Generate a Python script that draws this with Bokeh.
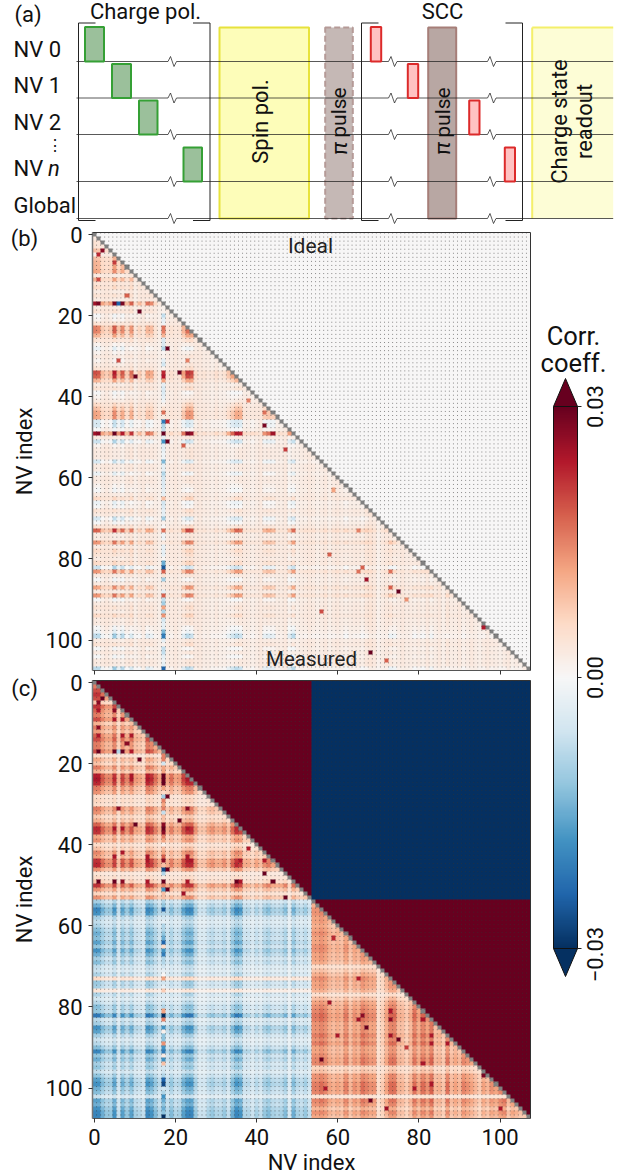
import numpy as np
from bokeh.plotting import figure
from bokeh.models import LinearColorMapper, Label, FixedTicker, Range1d, LinearAxis
from bokeh.embed import file_html
from bokeh.resources import INLINE

# NOTE: the heat maps are estimates: a level per row and per
# column, a separately read column 17, and individually read outlier cells.
# Individual pale cells are therefore approximations, not the original measurements.
N = 108
ticks = [0, 20, 40, 60, 80, 100]
cbar_ticks = [-0.03, 0.0, 0.03]
cbar_labels = ["\u22120.03", "0.00", "0.03"]

rows_b = [0,.05,.1,.1,.25,0,.25,.3,.3,.35,
          .05,.3,.1,.15,.05,.1,.05,.8,.05,.1,
          -.05,0,.1,.45,.45,.3,.1,0,-.1,0,
          .05,0,.05,.1,.6,.55,.3,.05,.1,-.05,
          0,.05,.15,.25,.35,.35,-.2,-.2,-.05,.8,
          .05,-.25,0,.05,.05,.05,-.2,.05,.05,-.1,
          .05,.05,0,-.05,.05,.15,-.1,-.05,.1,.05,
          -.2,-.05,.1,.55,.05,.05,.4,.05,.15,.1,
          .05,.15,-.25,.4,.05,-.05,.05,.35,.05,.4,
          -.05,.05,.1,.05,.15,.05,.05,-.05,-.1,-.3,
          .05,.1,-.05,.05,-.05,.05,.05,-.3]
cols_b = [1.0,1.0,.4,.25,.4,1.3,.5,1.0,.3,.8,
          .15,.3,.1,.6,.5,.15,.05,0,.1,.15,
          .05,.1,.6,1.1,1.0,.15,.05,.1,.05,.1,
          .15,.1,.15,.4,.7,1.0,.9,.15,.1,.15,
          .1,.05,.5,.6,.5,.1,.1,.05,.5,1.0,
          .1,.1,.15,.1,.15,.1,.1,.15,.1,.15,
          .15,.1,.25,.1,.15,.15,.25,.25,.15,.1,
          .05,.1,.15,.5,.35,.1,.1,.05,.1,.25,
          .15,.25,.15,.35,.1,.1,.05,.25,.1,.1,
          .1,.15,.1,.1,.05,.05,.15,.05,.15,.1,
          .1,.15,.05,.1,.1,.05,.05,.05]
col_tint_b = [.05,.03,.08,.1,.08,.02,.06,.02,.08,.08,
              .06,.08,.1,.06,.08,.08,.06,0,.08,.08,
              .1,.08,.06,.06,.08,.1,.1,.08,.08,.06,
              .08,.06,.06,.04,.02,.03,.05,.08,.08,.06,
              .08,.1,.06,.06,.06,.08,.08,.1,.02,.02,
              .06,.08,.08,.1,.08,.06,.08,.1,.06,.08,
              .1,.08,.06,.08,.08,.08,.06,.1,.12,.1,
              .05,.08,.1,.08,.06,.08,.1,.08,.08,.06,
              .08,.06,.1,.06,.08,.1,.06,.1,.08,.08,
              .1,.06,.08,.1,.08,.06,.08,.1,.08,.08,
              .06,.08,.1,.06,.08,.06,.1,.08]
col17_b = [0,0,0,0,0,0,0,0,0,0,
           0,0,0,0,0,0,0,0,.05,.05,
           -.25,-.1,-.05,.55,.5,.35,-.15,-.15,-.3,.02,
           .05,-.1,-.2,.05,.75,.8,.4,-.1,-.15,-.15,
           -.1,-.05,.05,.15,.55,.1,-.7,-.3,-.25,1.0,
           -.1,-.6,-.1,-.1,-.05,-.05,-.45,-.1,-.1,-.3,
           -.2,-.15,-.15,-.1,-.1,.3,-.2,-.15,-.1,-.1,
           -.35,.05,0,.55,-.05,-.05,.1,-.1,-.1,-.1,
           .02,-.5,-.85,.6,.15,-.35,.1,.1,-.1,.6,
           -.25,-.35,.4,-.3,.45,-.2,-.1,-.1,-.45,-.7,
           -.1,.05,-.25,-.25,-.1,-.05,-.1,-.8]

rows_a = [0,.7,.9,1.0,.9,.35,1.0,.8,.7,.9,
          .45,.7,.55,.8,.9,.7,.7,.9,.2,.5,
          .35,.7,.45,1.1,1.15,1.05,.7,.6,.2,.25,
          .2,.7,.6,.3,.45,.8,1.05,1.0,.5,.6,
          .2,.35,.65,.55,1.0,1.05,.6,.12,.2,.35,
          1.0,.6,.25,.6]
rows_x = [.35,.6,.9,.8,.35,.2,
          .3,.5,.6,.5,.7,.45,.8,.6,.35,.5,
          .2,.15,.3,-.15,.4,.35,-.1,.3,.1,.25,
          .5,.45,1.0,.25,.35,.8,.7,.35,.15,.25,
          .5,.9,.45,.6,.35,.45,.2,.45,.7,.8,
          .6,.5,.15,.7,.6,.8,.9,.9]
rows_d = [.8,.7,.9,.9,.8,.8,
          .7,.8,.9,.8,.8,.9,.9,.8,.8,.7,
          .3,.5,.7,.9,.8,.8,.65,.25,.55,.8,
          .9,1.0,1.1,1.05,.9,.9,.9,1.05,.9,1.05,
          .8,.8,.9,1.0,1.0,.4,.5,.9,.9,1.05,
          1.05,1.0,.2,1.0,.9,.65,.9,.75]
cols_c = [1.2,1.2,.9,.7,.7,1.1,.45,1.0,.7,1.0,
          .6,.55,.45,1.2,1.1,.8,.55,0,.55,.8,
          .55,.6,1.0,1.2,1.2,.7,.4,.4,.6,.7,
          .55,.55,.7,.45,.9,1.2,1.1,.55,.55,.4,
          .6,.45,.7,.8,.6,.55,.6,.8,.3,.9,
          .6,.55,.7,.45,.9,.9,1.0,.9,.7,.6,
          .7,.6,.9,.55,.8,.7,1.0,.9,.8,.8,
          .25,.4,.7,1.0,1.0,.6,.55,.4,.6,1.0,
          .7,1.0,.8,1.1,.55,.6,.45,1.0,.55,.7,
          .55,.9,.8,.7,.55,.4,.7,.55,.8,.7,
          .9,1.0,.55,.8,.7,.55,.55,.6]
col17_c = [0,0,0,0,0,0,0,0,0,0,
           0,0,0,0,0,0,0,0,.5,.5,
           -.2,.4,.4,1.0,1.0,1.0,.4,.2,-.35,.5,
           .4,.5,-.25,.3,.3,.9,1.0,.9,.5,.4,
           .05,.3,.4,.6,.9,.3,-.9,-.3,.1,1.0,
           .5,-.6,.3,.3,-.3,-.4,-.85,-.3,-.2,-.1,
           -.3,-.3,-.4,-.5,-.8,.2,-.6,-.7,-.3,-.3,
           -.2,-.1,0,.4,-.2,-.1,.25,-.15,-.1,-.2,
           -.3,.4,-1.0,.5,-.1,-.6,.05,-.4,-.4,.45,
           -.6,-.7,.1,-.6,.3,-.2,-.2,-.3,-.8,-.9,
           -.2,-.3,-.6,-.5,-.4,-.5,-.4,-1.0]

out_rows = [4,5,11,7,15,17,17,17,17,17,19,28,31,31,34,35,41,44,47,46,49,49,49,49,49,51,52,53,
            63,73,79,82,83,83,85,87,88,90,93,97,103,105]
out_cols = [2,1,1,5,8,1,5,6,7,9,11,18,6,23,21,10,38,42,42,18,1,5,7,35,44,18,22,47,
            59,65,58,66,65,73,67,73,75,77,56,96,68,72]
out_vals_b = [.9,.75,.65,.7,.6,.95,.95,-.8,.95,.6,1.0,1.0,.65,.5,1.0,1.0,.5,.55,.95,.75,.9,1.0,.8,.8,.85,1.0,.6,.7,
              .4,.5,.6,.6,.55,.55,.85,.6,1.0,.45,.65,.8,1.0,.6]
out_vals_c = [1.0,.9,.9,.9,.9,1.0,1.0,-.3,1.0,.8,1.0,1.0,.9,.9,1.0,1.0,.8,.8,1.0,1.0,1.0,1.0,.9,1.0,1.0,1.0,.85,1.0,
              .75,.8,.85,.9,.85,.9,1.0,.85,1.0,.7,1.0,.95,1.0,.85]
# further dark cells seen only in panel (c)
dark_rows_c = [81,83,87,89,89,94,99,100,100,105,105,87,
               43,44,42,43,36,36,23,24,7,11,13,9,9,13,13,36,43,44,44,49,49,49,44]
dark_cols_c = [73,81,83,83,87,81,83,79,57,72,100,60,
               13,13,7,5,5,7,9,9,1,1,1,5,7,7,9,23,23,23,24,36,23,13,36]
dark_level_c = 0.82

scale = 0.03
base_a, base_x, base_d = 0.55, -0.75, 0.48
offset_a, offset_d = 0.06, 0.06


def matrix_b():
    m = np.zeros((N, N))
    for i in range(N):
        for j in range(i):
            m[i, j] = col17_b[i] if j == 17 else rows_b[i] * cols_b[j] + col_tint_b[j]
        m[i, i] = np.nan
    for r, c, v in zip(out_rows, out_cols, out_vals_b):
        m[r, c] = v
    return m * scale


def cross_level(r):
    return 0.65 * r + 0.15 if r >= 0 else 1.5 * r


def matrix_c():
    m = np.zeros((N, N))
    half = N // 2
    for i in range(N):
        for j in range(N):
            if i == j:
                m[i, j] = np.nan
            elif i < j:
                m[i, j] = -1.0 if (i < half <= j) else 1.0
            elif j == 17:
                m[i, j] = col17_c[i]
            elif i < half:
                m[i, j] = base_a * rows_a[i] * cols_c[j] + offset_a
            elif j < half:
                m[i, j] = base_x * cross_level(rows_x[i - half]) * cols_c[j]
            else:
                m[i, j] = base_d * rows_d[i - half] * cols_c[j] + offset_d
    for r, c in zip(dark_rows_c, dark_cols_c):
        m[r, c] = dark_level_c
    for r, c, v in zip(out_rows, out_cols, out_vals_c):
        m[r, c] = v
    return m * scale


anchors = ["#053061", "#2166ac", "#4393c3", "#92c5de", "#d1e5f0", "#f7f7f7",
           "#fddbc7", "#f4a582", "#d6604d", "#b2182b", "#67001f"]
rgb = np.array([[int(h[k:k + 2], 16) for k in (1, 3, 5)] for h in anchors], dtype=float)
pos = np.linspace(0, 1, 256)
palette = ["#%02x%02x%02x" % tuple(int(round(np.interp(t, np.linspace(0, 1, 11), rgb[:, k]))) for k in range(3)) for t in pos]
mapper = LinearColorMapper(palette=palette, low=-0.03, high=0.03, nan_color="#808080")

FONT = "Roboto"
FS = "22px"
W, H = 615, 1174
CELL = 438 / 108
LEFT = 92

# one canvas: the default ranges are page pixels, the extra ranges carry each panel's scale
p = figure(width=W, height=H, x_range=Range1d(0, W), y_range=Range1d(H, 0), x_axis_type=None, y_axis_type=None,
           toolbar_location=None, output_backend="svg", min_border=0, outline_line_color=None)
p.grid.visible = False
p.extra_x_ranges["heat"] = Range1d(-0.5 - LEFT / CELL, -0.5 + (W - LEFT) / CELL)


def yr(top_px):
    return Range1d(-0.5 + (H - top_px) / CELL, -0.5 - top_px / CELL)


p.extra_y_ranges["b"] = yr(232)
p.extra_y_ranges["c"] = yr(680)
CB_TOP, CB_BOTTOM = 406, 948
cb_per_px = 0.06 / (CB_BOTTOM - CB_TOP)
p.extra_y_ranges["cb"] = Range1d(0.03 - (H - CB_TOP) * cb_per_px, 0.03 + CB_TOP * cb_per_px)


def lab(x, y, text, size=FS, angle=0, style="normal", align="center", color="#111111", **kw):
    p.add_layout(Label(x=x, y=y, text=text, text_font=FONT, text_font_size=size, text_font_style=style,
                       text_align=align, text_baseline="middle", angle=angle, angle_units="deg",
                       text_color=color, **kw))


# ---------- panel (a) ----------
line_ys = [61, 97.5, 134, 181, 218]
row_names = ["NV 0", "NV 1", "NV 2", None, "Global"]
breaks_first = 172.5
breaks_scc = [393, 492]

p.quad(left=[219], right=[308.5], top=[27], bottom=[218], fill_color="#fdfdb9", line_color="#e7e23c", line_width=2)
p.quad(left=[531.7], right=[612.7], top=[27], bottom=[218], fill_color="#fdfdd6", line_color=None)
p.line([531.7, 531.7], [218, 27], line_color="#f4ef6a", line_width=2)
p.line([531.7, 612.7], [27, 27], line_color="#f4ef6a", line_width=2)
p.quad(left=[324.7], right=[352.3], top=[27], bottom=[218], fill_color="#c5b8b5", line_color="#b59a97",
       line_width=2, line_dash="6 3")
p.quad(left=[427.7], right=[455.7], top=[27], bottom=[218], fill_color="#b8a7a3", line_color="#a67e78", line_width=2)

for y in line_ys:
    xs, ys = [76], [y]
    for bx in [breaks_first] + breaks_scc:
        xs += [bx - 5, bx - 2.5, bx + 1, bx + 3.5]
        ys += [y, y - 5, y + 5, y]
    xs.append(612.7)
    ys.append(y)
    p.line(xs, ys, line_color="#222222", line_width=1, line_alpha=0.75)

green_left = [84.5, 111.5, 138.5, 183]
green_right = [103.5, 130.5, 157, 201.5]
red_left = [370.3, 407.3, 468.7, 504.3]
red_right = [380.7, 417.7, 479, 514.5]
pulse_top = [26.5, 63.5, 100, 147]
pulse_bottom = [61, 97.5, 134, 181]
p.quad(left=green_left, right=green_right, top=pulse_top, bottom=pulse_bottom, fill_color="#9bc09b",
       line_color="#35a035", line_width=2)
p.quad(left=red_left, right=red_right, top=pulse_top, bottom=pulse_bottom, fill_color="#ffc2c2",
       line_color="#dc2a2a", line_width=2)

for l, r in [(78, 209.5), (361, 522)]:
    p.line([l + 17, l, l, l + 17], [22.5, 22.5, 220, 220], line_color="#222222", line_width=1)
    p.line([r - 17, r, r, r - 17], [22.5, 22.5, 220, 220], line_color="#222222", line_width=1)

lab(27.5, 14, "(a)")
lab(145, 11, "Charge pol.")
lab(442, 11, "SCC")
for name, y in zip(row_names, [49, 85, 122, None, 205]):
    if name:
        lab(13, y, name, align="left")
lab(13, 168, "NV ", align="left")
lab(47.5, 168, "n", style="italic", align="left")
lab(54, 145, "\u22ee", size="16px")
lab(260, 121, "Spin pol.", angle=90)
for x in (338.5, 442):
    lab(x, 112, "pulse", size="21px", angle=90)
    lab(x, 148, "\u03c0", size="22px", angle=90, style="italic")
lab(559, 121, "Charge state", angle=90)
lab(584, 121, "readout", angle=90)


# ---------- heat maps ----------
def style(ax):
    ax.ticker = FixedTicker(ticks=ticks)
    ax.minor_tick_line_color = None
    ax.major_tick_in = 0
    ax.major_tick_out = 4
    ax.major_tick_line_color = "#333333"
    ax.major_label_text_font = FONT
    ax.major_label_text_font_size = FS
    ax.major_label_text_color = "#111111"
    ax.axis_label_text_font = FONT
    ax.axis_label_text_font_size = FS
    ax.axis_label_text_font_style = "normal"
    ax.axis_label_text_color = "#111111"
    ax.bounds = (-0.5, 107.5)


def heat(mat, rng, show_x):
    fine = np.repeat(np.repeat(mat, 4, axis=0), 4, axis=1)
    p.image(image=[fine], x=-0.5, y=-0.5, dw=108, dh=108, color_mapper=mapper, x_range_name="heat", y_range_name=rng)
    dx, dy = [], []
    for e in np.arange(N) - 0.5:
        for k in np.arange(N) - 0.5:
            dx += [e, e, np.nan]
            dy += [k, k + 0.25, np.nan]
    p.line(dx, dy, line_color="#333333", line_width=1, line_alpha=0.55, x_range_name="heat", y_range_name=rng)
    p.line([-0.5, 107.5, 107.5], [-0.5, -0.5, 107.5], line_color="#333333", line_width=1,
           x_range_name="heat", y_range_name=rng)
    ya = LinearAxis(x_range_name="heat", y_range_name=rng, fixed_location=-0.5, axis_label="NV index")
    style(ya)
    ya.axis_line_color = "#777777"
    ya.axis_line_width = 1.5
    ya.major_label_standoff = 6
    ya.axis_label_standoff = 5
    p.add_layout(ya, "left")
    xa = LinearAxis(x_range_name="heat", y_range_name=rng, fixed_location=107.5)
    style(xa)
    xa.axis_line_color = "#555555"
    if show_x:
        xa.axis_label = "NV index"
        xa.major_label_standoff = 6
        xa.axis_label_standoff = 2
    else:
        xa.major_label_text_color = None
        xa.major_label_text_font_size = "0px"
    p.add_layout(xa, "below")


heat(matrix_b(), "b", False)
lab(310, 245, "Ideal", size="21px", color="#222222")
lab(311, 658, "Measured", size="20.5px", color="#222222")
lab(24, 238, "(b)")
heat(matrix_c(), "c", True)
lab(24, 688, "(c)")

# ---------- colour bar ----------
tip = 0.03 + 28 * cb_per_px
CB_L, CB_R = 553, 577
p.image(image=[np.linspace(-0.03, 0.03, 256).reshape(-1, 1)], x=CB_L, y=-0.03, dw=CB_R - CB_L, dh=0.06,
        color_mapper=mapper, y_range_name="cb")
CB_M = (CB_L + CB_R) / 2
p.patch([CB_L, CB_M, CB_R], [0.03, tip, 0.03], fill_color="#67001f", line_color="#111111", line_width=1, y_range_name="cb")
p.patch([CB_L, CB_M, CB_R], [-0.03, -tip, -0.03], fill_color="#053061", line_color="#111111", line_width=1, y_range_name="cb")
p.line([CB_L, CB_L], [-0.03, 0.03], line_color="#111111", line_width=1, y_range_name="cb")
p.line([CB_R, CB_R], [-0.03, 0.03], line_color="#111111", line_width=1, y_range_name="cb")
ay = LinearAxis(y_range_name="cb", fixed_location=CB_R)
ay.ticker = FixedTicker(ticks=cbar_ticks)
ay.axis_line_color = None
ay.minor_tick_line_color = None
ay.major_tick_in = 0
ay.major_tick_out = 4
ay.major_tick_line_color = "#222222"
ay.major_label_text_color = None
ay.major_label_text_font_size = "0px"
p.add_layout(ay, "right")
for t, s in zip(cbar_ticks, cbar_labels):
    lab(594.5, t, s, angle=90, y_range_name="cb", y_offset=-6 if t < 0 else 0)
lab(573, 335, "Corr.", size="25.5px")
lab(573, 362, "coeff.", size="25.5px")

open("out.html", "w").write(file_html(p, INLINE))
